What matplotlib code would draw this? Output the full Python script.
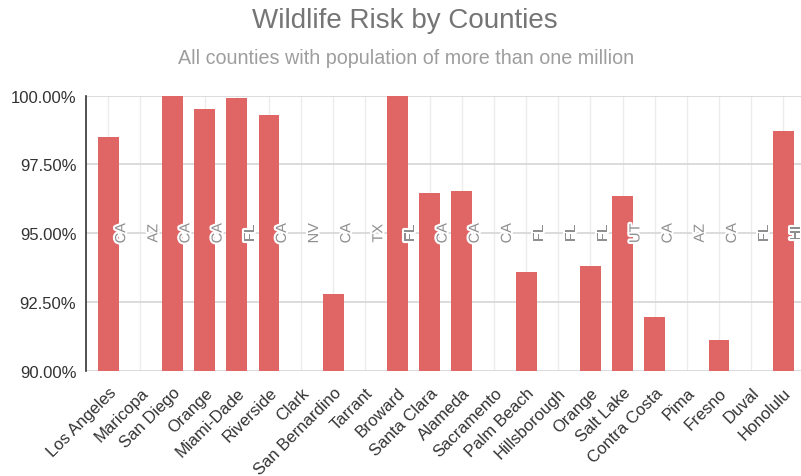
import numpy as np
import matplotlib
matplotlib.use("Agg")
import matplotlib.pyplot as plt
import matplotlib.patheffects as pe
from matplotlib.ticker import FuncFormatter

plt.rcParams["font.family"] = ["Liberation Sans", "DejaVu Sans"]

counties = ["Los Angeles", "Maricopa", "San Diego", "Orange", "Miami-Dade",
            "Riverside", "Clark", "San Bernardino", "Tarrant", "Broward",
            "Santa Clara", "Alameda", "Sacramento", "Palm Beach", "Hillsborough",
            "Orange", "Salt Lake", "Contra Costa", "Pima", "Fresno", "Duval",
            "Honolulu"]
states = ["CA", "AZ", "CA", "CA", "FL", "CA", "NV", "CA", "TX", "FL", "CA",
          "CA", "CA", "FL", "FL", "FL", "UT", "CA", "AZ", "CA", "FL", "HI"]
# risk in percent; nan = below the 90% axis floor (no visible bar)
risk = [98.5, np.nan, 100.0, 99.5, 99.9, 99.3, np.nan, 92.8, np.nan, 100.0,
        96.45, 96.55, np.nan, 93.6, np.nan, 93.8, 96.35, 91.95, np.nan, 91.1,
        np.nan, 98.7]
y_ticks = [90, 92.5, 95, 97.5, 100]

bar_color = "#e06666"
W, H = 801, 477
fig = plt.figure(figsize=(W / 100, H / 100), dpi=100)
ax = fig.add_axes([86 / W, (H - 371.7) / H, (W - 86) / W, (371.7 - 96.7) / H])

x = np.arange(len(counties))
vals = np.array(risk)
ok = ~np.isnan(vals)
ax.bar(x[ok], vals[ok] - 90, bottom=90, width=0.65, color=bar_color, zorder=3)

for xi, st in zip(x, states):
    ax.text(xi + 0.4, 95, st, rotation=90, ha="center", va="center",
            fontsize=10.5, color="#8f8f8f", zorder=4,
            path_effects=[pe.withStroke(linewidth=3, foreground="white")])

ax.set_ylim(90, 100)
ax.set_xlim(-0.694, 21.55)
ax.set_yticks(y_ticks)
ax.yaxis.set_major_formatter(FuncFormatter(lambda v, p: f"{v:.2f}%"))
ax.set_xticks(x)
ax.set_xticklabels(counties, rotation=45, ha="right", va="top",
                   rotation_mode="anchor")
ax.tick_params(axis="both", length=0, labelsize=12, labelcolor="#333333")
ax.tick_params(axis="y", pad=7)
ax.tick_params(axis="x", pad=10)

ax.grid(axis="y", color="#d6d6d6", linewidth=1.2, zorder=0)
ax.grid(axis="x", color="#ececec", linewidth=1.0, zorder=0)
ax.set_axisbelow(True)
for s in ["top", "right", "bottom"]:
    ax.spines[s].set_visible(False)
ax.spines["left"].set_color("#333333")
ax.spines["left"].set_linewidth(1.2)
ax.spines["left"].set_zorder(5)

fig.text(405 / W, 1 - 21 / H, "Wildlife Risk by Counties", ha="center",
         va="center", fontsize=20, color="#757575")
fig.text(406 / W, 1 - 59 / H, "All counties with population of more than one million",
         ha="center", va="center", fontsize=14.2, color="#9e9e9e")

fig.savefig("out.png", dpi=100, facecolor="white")
